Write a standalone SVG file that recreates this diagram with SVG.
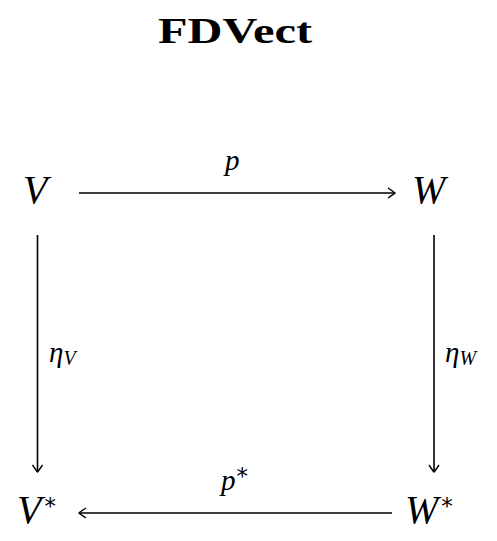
<svg xmlns="http://www.w3.org/2000/svg" width="497" height="541" viewBox="0 0 497 541">
<style>
.obj{font-family:"Liberation Serif","DejaVu Serif",serif;font-style:italic;font-size:40px;fill:#000}
.lbl{font-family:"Liberation Serif","DejaVu Serif",serif;font-style:italic;font-size:29px;fill:#000}
.sub{font-size:20px}
.sup{font-family:"DejaVu Sans",sans-serif;font-size:23px;font-style:normal}
.title{font-family:"Liberation Serif","DejaVu Serif",serif;font-weight:bold;font-size:36px;fill:#000}
.edge{stroke:#000;stroke-width:1.6;fill:none}
</style>
<defs>
<marker id="tip" viewBox="-10 -6 12 12" refX="0" refY="0" markerWidth="12" markerHeight="12" markerUnits="userSpaceOnUse" orient="auto">
<path d="M-7,-5 Q-1,-1 0,0 Q-1,1 -7,5" stroke="#000" stroke-width="1.4" fill="none"/>
</marker>
</defs>
<rect width="497" height="541" fill="#fff"/>
<text class="title" x="158" y="43" textLength="154" lengthAdjust="spacingAndGlyphs">FDVect</text>
<g id="V"><text class="obj" x="23" y="203">V</text></g>
<g id="W"><text class="obj" x="412" y="203">W</text></g>
<g id="Vstar"><text class="obj" x="17" y="523">V<tspan class="sup" dx="3" dy="-9">*</tspan></text></g>
<g id="Wstar"><text class="obj" x="405" y="523">W<tspan class="sup" dx="3" dy="-9">*</tspan></text></g>
<g id="connectors">
<line class="edge" x1="79" y1="193" x2="395" y2="193" marker-end="url(#tip)"/>
<line class="edge" x1="392" y1="513" x2="79" y2="513" marker-end="url(#tip)"/>
<line class="edge" x1="37.5" y1="235" x2="37.5" y2="472" marker-end="url(#tip)"/>
<line class="edge" x1="434" y1="235" x2="434" y2="472" marker-end="url(#tip)"/>
<text class="lbl" x="225" y="170">p</text>
<text class="lbl" x="221" y="490">p<tspan class="sup" font-size="19" dx="1" dy="-6">*</tspan></text>
<text class="lbl" x="49" y="362">η<tspan class="sub" dy="3">V</tspan></text>
<text class="lbl" x="445" y="362">η<tspan class="sub" dy="3">W</tspan></text>
</g>
</svg>
